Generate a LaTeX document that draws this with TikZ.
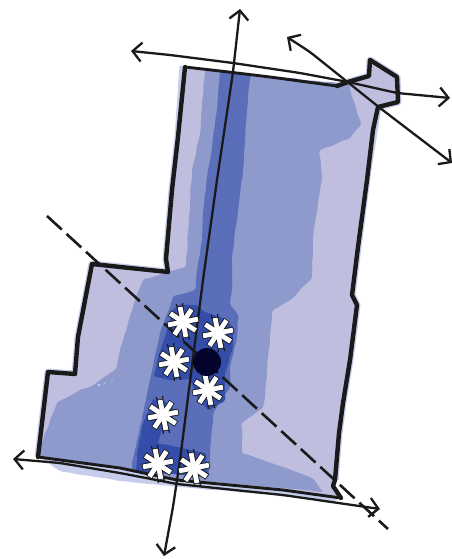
\documentclass[tikz,border=0pt]{standalone}
\usepackage{tikz}
\usetikzlibrary{positioning, arrows.meta, decorations.pathmorphing}
\definecolor{zonea}{HTML}{C0BEDE}
\definecolor{zoneb}{HTML}{8E99CC}
\definecolor{zonec}{HTML}{5A6EB9}
\definecolor{zoned}{HTML}{334DA9}
\definecolor{halo}{HTML}{C6CDEC}
\definecolor{ink}{HTML}{1A1A1A}
\definecolor{wellhole}{HTML}{03032B}
\tikzset{
    zone/.style={rounded corners=2pt, decorate, decoration={random steps, segment length=5pt, amplitude=.5pt}},
    wall/.style={draw=ink, line width=4.4pt, line join=round, line cap=round},
    wallthin/.style={draw=ink, line width=2.9pt, line join=round, line cap=round},
    axis/.style={draw=ink, line width=2.3pt, rounded corners=5pt, {Straight Barb[length=9pt, width=19pt, line width=2.3pt]}-{Straight Barb[length=9pt, width=19pt, line width=2.3pt]}},
    cutline/.style={draw=ink, line width=2.6pt, dash pattern=on 20pt off 6.5pt},
}
\newcommand{\wellmark}[2]{%
    \begin{scope}[shift={(#1,#2)}, rotate=11]
        \foreach \ang in {0,45,...,315} {
            \draw[ink, line width=6.6pt] (0,0) -- (\ang:16);
        }
        \foreach \ang in {80,100,260,280} {
            \draw[ink, line width=1.3pt] (\ang:8) -- (\ang:19);
        }
        \foreach \ang in {0,45,...,315} {
            \draw[white, line width=4.8pt] (0,0) -- (\ang:15.2);
        }
        \fill[white] (0,0) circle (6);
    \end{scope}
}
\begin{document}
\begin{tikzpicture}[x=1pt, y=-1pt]
    \useasboundingbox (0,0) rectangle (452,559);
    % halo under the plot
    \fill[halo, zone] (36,455) -- (60,471) -- (120,481) -- (180,487) -- (260,494) -- (335,501) -- (341,495) -- (300,480) -- (100,450) -- cycle;
    \draw[halo, line width=7pt, line join=round] (183,66) -- (178,137) -- (172,190) -- (166,259) -- (168,272) -- (92,264) -- (78,337) -- (75,374) -- (48,372) -- (38,457);
    \draw[halo, line width=7pt, line join=round] (348,82) -- (369,76) -- (370,60) -- (397,77) -- (398,102) -- (378,107) -- (368,170) -- (358,247) -- (352,295) -- (357,305) -- (350,360) -- (343,403) -- (339,433) -- (335,480);
    % zones
    \fill[zonea] (185,67) -- (220,71) -- (300,81) -- (337,86) -- (348,82) -- (369,76) -- (370,60) -- (397,77) -- (398,102) -- (378,107) -- (373,130) -- (367,180) -- (358,247) -- (352,295) -- (357,305) -- (350,360) -- (343,403) -- (339,433) -- (335,480) -- (333,486) -- (341,498) -- (283,490) -- (177,480) -- (120,468) -- (38,457) -- (48,372) -- (75,374) -- (78,337) -- (92,264) -- (168,272) -- (166,259) -- (172,190) -- (178,137) -- cycle;
    \fill[zoneb, zone] (205,70) -- (348,84) -- (361,123) -- (350,138) -- (320,150) -- (322,177) -- (320,190) -- (313,237) -- (312,277) -- (293,298) -- (273,310) -- (268,357) -- (265,397) -- (263,407) -- (242,423) -- (242,452) -- (257,458) -- (283,467) -- (312,478) -- (323,492) -- (283,488) -- (177,479) -- (120,467) -- (39,457) -- (43,440) -- (57,403) -- (80,390) -- (90,387) -- (115,370) -- (123,340) -- (135,300) -- (143,280) -- (185,267) -- (187,253) -- (192,170) -- (200,133) -- cycle;
    \fill[zonec, zone] (220,72) -- (250,75) -- (247,110) -- (243,170) -- (238,210) -- (232,257) -- (232,290) -- (230,303) -- (238,315) -- (237,337) -- (230,367) -- (230,387) -- (214,412) -- (211,440) -- (209,476) -- (133,472) -- (132,463) -- (138,437) -- (150,380) -- (160,333) -- (173,297) -- (195,290) -- (197,270) -- (202,240) -- (203,213) -- (208,170) -- (212,147) -- (217,110) -- cycle;
    \fill[zoned, zone] (180,305) -- (195,305) -- (205,312) -- (223,318) -- (233,327) -- (233,347) -- (225,373) -- (225,400) -- (210,410) -- (200,403) -- (190,380) -- (170,380) -- (155,377) -- (158,357) -- (165,337) -- (173,310) -- cycle;
    \fill[zoned, zone] (153,400) -- (162,400) -- (175,410) -- (162,430) -- (158,443) -- (182,448) -- (205,453) -- (208,477) -- (137,471) -- (137,453) -- (142,427) -- cycle;
    \fill[white] (99,385) circle (.8) (105,383) circle (.7) (112,381) circle (.7);
    % plot boundary
    \draw[wall] (185,67) -- (178,137) -- (172,190) -- (166,259) -- (168,272) -- (92,264) -- (78,337) -- (75,374) -- (48,372) -- (38,457);
    \draw[wall] (337,86) -- (348,82) -- (369,76) -- (370,60) -- (397,77) -- (398,102) -- (378,107) -- (373,130) -- (367,180) -- (358,247) -- (352,295) -- (357,305) -- (350,360) -- (343,403) -- (339,433) -- (335,480) -- (333,486) -- (341,498);
    \draw[wallthin] (185,67) -- (220,71) -- (270,77) -- (337,86);
    \draw[wallthin] (38,457) -- (120,468) -- (177,480) -- (283,490) -- (341,498);
    % axes
    \draw[cutline] (47,216) -- (388,529);
    \draw[axis] (131,51) -- (170,55) -- (233,63) -- (300,73) -- (348,82) -- (397,93) -- (450,98);
    \draw[axis] (287,37) -- (310,52) -- (350,84) -- (380,108) -- (452,163);
    \draw[axis] (13,459) -- (60,463) -- (120,473) -- (177,484) -- (283,495) -- (380,509);
    \draw[axis] (240,9) -- (233,72) -- (217,180) -- (203,280) -- (180,460) -- (173,507) -- (164,556);
    % wells
    \wellmark{183}{322}
    \wellmark{218}{333}
    \wellmark{174}{362}
    \wellmark{208}{390}
    \wellmark{163}{415}
    \wellmark{158}{464}
    \wellmark{194}{468}
    \fill[wellhole] (207,362) circle (14);
\end{tikzpicture}
\end{document}
